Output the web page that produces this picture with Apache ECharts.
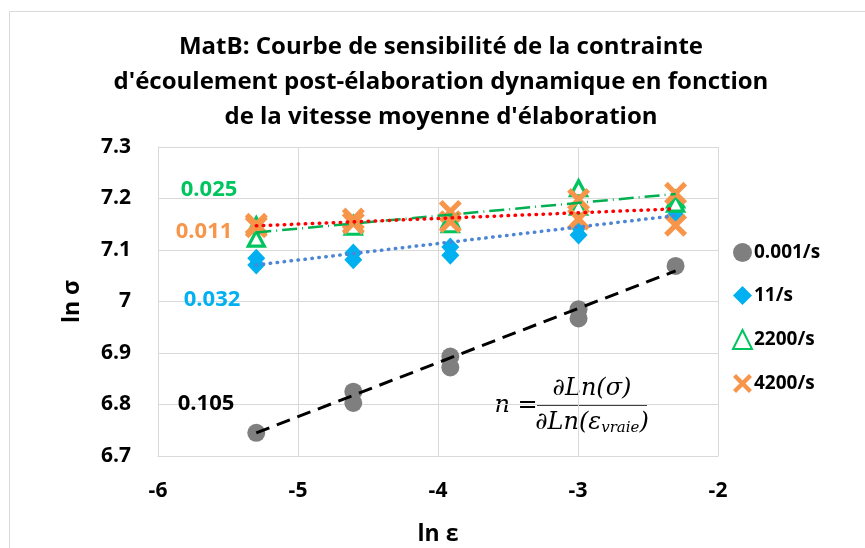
<!DOCTYPE html>
<html>
<head>
<meta charset="utf-8">
<script src="https://cdn.jsdelivr.net/npm/echarts@6/dist/echarts.min.js"></script>
<style>
  html, body { margin: 0; padding: 0; background: #ffffff; }
  #chart { width: 865px; height: 548px; }
</style>
</head>
<body>
<div id="chart"></div>
<script>
// Strain-rate series shown in the legend
const seriesNames = ['0.001/s', '11/s', '2200/s', '4200/s'];

// ln of the mean elaboration rate for each test level
const lnLevels = [-5.298, -4.605, -3.912, -2.996, -2.303];

// ln σ — quasi-static reference (0.001/s)
const xQs = [-5.298, -4.605, -4.605, -3.912, -3.912, -2.996, -2.996, -2.303];
const yQs = [6.745, 6.825, 6.803, 6.893, 6.872, 6.985, 6.967, 7.069];

// ln σ — dynamic tests, two per level
const xDyn = [-5.298, -5.298, -4.605, -4.605, -3.912, -3.912, -2.996, -2.996, -2.303, -2.303];
const y11 = [7.084, 7.071, 7.094, 7.081, 7.106, 7.090, 7.145, 7.129, 7.178, 7.168];
const y2200 = [7.148, 7.122, 7.150, 7.145, 7.160, 7.150, 7.220, 7.184, 7.198, 7.190];
const y4200 = [7.150, 7.145, 7.160, 7.152, 7.175, 7.155, 7.198, 7.160, 7.210, 7.148];

// Linear fits: sensitivity n (slope) and fitted ln σ at the first level
const fitSlopes = [0.105, 0.032, 0.025, 0.011];
const fitStarts = [6.745, 7.071, 7.134, 7.147];

// Axis ranges and ticks
const xTicks = [-6, -5, -4, -3, -2];
const yTicks = [6.7, 6.8, 6.9, 7.0, 7.1, 7.2, 7.3];

const titleLines = [
  'MatB: Courbe de sensibilité de la contrainte',
  "d'écoulement post-élaboration dynamique en fonction",
  "de la vitesse moyenne d'élaboration"
];

const FONT = '"Open Sans", Lato, sans-serif';
const markerColors = ['#7f7f7f', '#00b0f0', '#00c45e', '#f7964a'];
const fitColors = ['#000000', '#4d86d6', '#00b050', '#ff0000'];
const labelColors = ['#000000', '#00b0f0', '#00c45e', '#f7964a'];

// thick X cross used for the 4200/s markers
const crossPath = 'path://M0,16L16,0L50,34L84,0L100,16L66,50L100,84L84,100L50,66L16,100L0,84L34,50Z';

const pairs = (xs, ys) => xs.map((x, i) => [x, ys[i]]);

function fitLine(k) {
  const x0 = lnLevels[0], x1 = lnLevels[lnLevels.length - 1];
  const y0 = fitStarts[k];
  return [[x0, y0], [x1, y0 + fitSlopes[k] * (x1 - x0)]];
}

const chart = echarts.init(document.getElementById('chart'), null, { renderer: 'canvas' });

const scatterDefs = [
  { data: pairs(xQs, yQs), symbol: 'circle', size: 18, style: { color: markerColors[0] } },
  { data: pairs(xDyn, y11), symbol: 'diamond', size: [18, 19], style: { color: markerColors[1] } },
  { data: pairs(xDyn, y2200), symbol: 'triangle', size: [16, 15],
    style: { color: '#ffffff', borderColor: markerColors[2], borderWidth: 3.2 } },
  { data: pairs(xDyn, y4200), symbol: crossPath, size: 23, style: { color: markerColors[3] } }
];

const fitStyles = [
  { type: [14, 8], width: 3, cap: 'butt' },
  { type: [0.5, 6.5], width: 3.5, cap: 'round' },
  { type: [15, 5, 1, 5], width: 2.5, cap: 'butt' },
  { type: [0.5, 6.5], width: 3.5, cap: 'round' }
];

const series = [];
scatterDefs.forEach((d, i) => {
  series.push({
    name: seriesNames[i],
    type: 'scatter',
    data: d.data,
    symbol: d.symbol,
    symbolSize: d.size,
    itemStyle: Object.assign({ opacity: 1 }, d.style),
    emphasis: { disabled: true },
    z: 2
  });
});
fitSlopes.forEach((s, k) => {
  series.push({
    name: 'fit ' + seriesNames[k],
    type: 'line',
    data: fitLine(k),
    symbol: 'none',
    lineStyle: Object.assign({ color: fitColors[k] }, fitStyles[k]),
    silent: true,
    z: 4
  });
});

// slope labels next to each fit
const slopeLabelPos = [[206, 404], [212, 300], [209, 190], [204, 232]];
const slopeLabels = fitSlopes.map((s, k) => ({
  type: 'text',
  x: slopeLabelPos[k][0], y: slopeLabelPos[k][1],
  style: {
    text: s.toFixed(3),
    fill: labelColors[k],
    font: 'bold 22px ' + FONT,
    align: 'center', verticalAlign: 'middle'
  },
  z: 10
}));

const titleTexts = titleLines.map((t, i) => ({
  type: 'text',
  x: 441, y: 47 + i * 35,
  style: {
    text: t, fill: '#000000',
    font: 'bold 24px ' + FONT,
    align: 'center', verticalAlign: 'middle'
  }
}));

const MATH = 'italic 24px "DejaVu Serif", "Liberation Serif", serif';
const formula = {
  type: 'group',
  z: 20,
  children: [
    { type: 'rect', shape: { x: 490, y: 372, width: 163, height: 68 }, style: { fill: '#ffffff' } },
    { type: 'text', x: 516, y: 406, style: { text: 'n =', font: MATH, fill: '#000', align: 'center', verticalAlign: 'middle' } },
    { type: 'text', x: 592, y: 389, style: { text: '∂Ln(σ)', font: MATH, fill: '#000', align: 'center', verticalAlign: 'middle' } },
    { type: 'line', shape: { x1: 537, y1: 405, x2: 647, y2: 405 }, style: { stroke: '#000', lineWidth: 1.3 } },
    { type: 'text', x: 592, y: 423, style: {
        text: '{a|∂Ln(ε}{b|vraie}{a|)}',
        align: 'center', verticalAlign: 'middle',
        rich: {
          a: { font: MATH, fill: '#000', lineHeight: 26 },
          b: { font: 'italic 15px "DejaVu Serif", serif', fill: '#000', lineHeight: 26, padding: [10, 0, 0, 0] }
        }
      } }
  ]
};

chart.setOption({
  animation: false,
  backgroundColor: '#ffffff',
  grid: { left: 158, right: 147, top: 147, bottom: 92, containLabel: false, outerBoundsMode: 'none' },
  xAxis: {
    type: 'value',
    min: xTicks[0], max: xTicks[xTicks.length - 1], interval: 1,
    name: 'ln ε', nameLocation: 'middle', nameGap: 67, nameMoveOverlap: false,
    nameTextStyle: { fontFamily: FONT, fontWeight: 'bold', fontSize: 23, color: '#000' },
    axisLine: { show: true, lineStyle: { color: '#d9d9d9', width: 1 } },
    axisTick: { show: false },
    axisLabel: { margin: 25, fontFamily: FONT, fontWeight: 'bold', fontSize: 21, color: '#000' },
    splitLine: { show: true, lineStyle: { color: '#d9d9d9', width: 1 } }
  },
  yAxis: {
    type: 'value',
    min: yTicks[0], max: yTicks[yTicks.length - 1], interval: 0.1,
    name: 'ln σ', nameLocation: 'middle', nameGap: 74, nameRotate: 90, nameMoveOverlap: false,
    nameTextStyle: { fontFamily: FONT, fontWeight: 'bold', fontSize: 23, color: '#000' },
    axisLine: { show: true, lineStyle: { color: '#d9d9d9', width: 1 } },
    axisTick: { show: false },
    axisLabel: {
      margin: 27, fontFamily: FONT, fontWeight: 'bold', fontSize: 21, color: '#000',
      formatter: v => String(+(+v).toFixed(1))
    },
    splitLine: { show: true, lineStyle: { color: '#d9d9d9', width: 1 } }
  },
  legend: {
    data: seriesNames,
    orient: 'vertical',
    left: 727, top: 238,
    itemWidth: 19, itemHeight: 19, itemGap: 24,
    selectedMode: false,
    textStyle: { fontFamily: FONT, fontWeight: 'bold', fontSize: 19, color: '#000', padding: [0, 0, 0, -3] }
  },
  graphic: [
    { type: 'rect', shape: { x: 9.5, y: 11.5, width: 900, height: 600 }, style: { fill: 'none', stroke: '#d9d9d9', lineWidth: 1 }, silent: true, z: -1 }
  ].concat(titleTexts, slopeLabels, [formula]),
  series: series
});
</script>
</body>
</html>
